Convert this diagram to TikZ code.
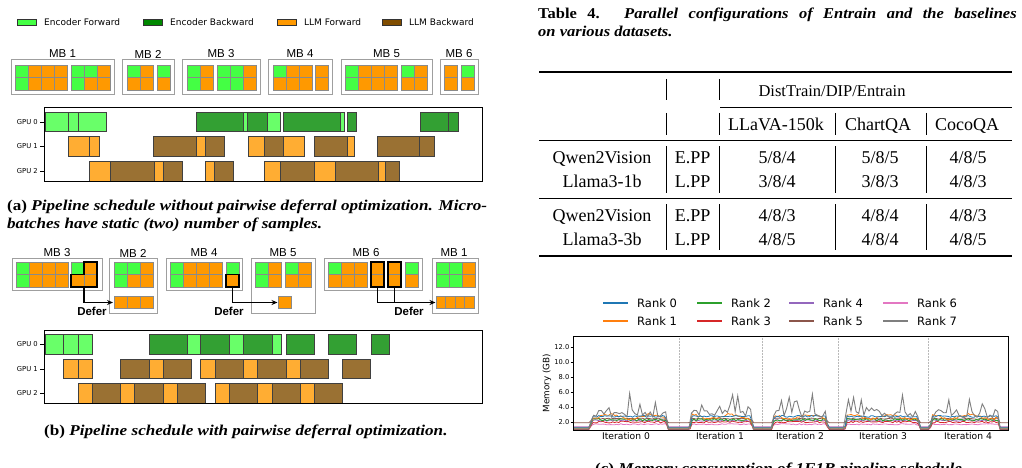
\documentclass[tikz,border=0pt]{standalone}
\usepackage{fontspec}
\setmainfont{Liberation Serif}
\newfontfamily\dv{DejaVu Sans}
\newfontfamily\hv{Liberation Sans}
\usetikzlibrary{arrows.meta}
\definecolor{gr}{HTML}{44FF44}
\definecolor{or}{HTML}{FF9900}
\definecolor{ebk}{HTML}{008800}
\definecolor{lbk}{HTML}{804D00}
\definecolor{lg}{HTML}{69FF69}
\definecolor{dg}{HTML}{33A033}
\definecolor{lo}{HTML}{FFAD33}
\definecolor{bw}{HTML}{9A7133}
\definecolor{cA}{HTML}{1F77B4}
\definecolor{cB}{HTML}{FF7F0E}
\definecolor{cC}{HTML}{2CA02C}
\definecolor{cD}{HTML}{D62728}
\definecolor{cE}{HTML}{9467BD}
\definecolor{cF}{HTML}{8C564B}
\definecolor{cG}{HTML}{E377C2}
\definecolor{cH}{HTML}{7F7F7F}
\definecolor{cellline}{HTML}{8A8A8A}
\newcommand\fsz[1]{\fontsize{#1}{#1}\selectfont}
\newcommand\wide[1]{\scalebox{1.14}[1]{#1}}
\newcommand\twide[1]{\scalebox{1.1}[1]{#1}}
\newcommand\grp[3]{\foreach \ct/\cb [count=\ci from 0] in {#3}{%
  \draw[cellbox,fill=\ct] ({#1+13*\ci},#2) rectangle ++(13,12.5);
  \draw[cellbox,fill=\cb] ({#1+13*\ci},{#2+12.5}) rectangle ++(13,12.5);}}
\newcommand\bars[3]{\foreach \xa/\xb/\cc in {#3}{\draw[barbox,fill=\cc] (\xa,#1) rectangle (\xb,#2);}}
\begin{document}
\begin{tikzpicture}[x=1pt,y=-1pt,
  cellbox/.style={draw=cellline,line width=0.7pt},
  mbbox/.style={draw=gray!75,line width=1pt},
  mblab/.style={font=\hv\fsz{11.5},inner sep=0pt},
  hlbox/.style={draw=black,line width=1.6pt},
  deferarrow/.style={line width=1.3pt,-{Stealth[length=6pt,width=5pt]}},
  defertxt/.style={font=\hv\bfseries\fsz{11.5},inner sep=0pt},
  barbox/.style={draw=black!75,line width=0.9pt},
  gpulab/.style={font=\dv\fsz{6.8},anchor=east,inner sep=0pt},
  legbox/.style={draw=black!80,line width=0.7pt},
  legtxt/.style={font=\dv\fsz{9},anchor=west,inner sep=0pt},
  captxt/.style={font=\fsz{15},anchor=base west,inner sep=0pt},
  tbtxt/.style={font=\fsz{18},anchor=base,inner sep=0pt},
  rulethin/.style={line width=0.7pt},
  ticklab/.style={font=\dv\fsz{6.7},anchor=east,inner sep=0pt},
  declare function={R(\x,\a,\b)=min(max((\x-\a)/2,0),1)*min(max((\b-\x)/2,0),1);
    M(\x)=R(\x,590,668)+R(\x,690,753)+R(\x,772,828)+R(\x,845,920)+R(\x,930,1000);
    Y(\v)=422-(\v-2)*7.5;}]
\useasboundingbox (0,0) rectangle (1022,468);

% ---------- legend (top left)
\foreach \lx/\lc/\lt [count=\li] in {17/gr/Encoder Forward,143/ebk/Encoder Backward,277/or/LLM Forward,382/lbk/LLM Backward}{
  \draw[legbox,fill=\lc] (\lx,19) rectangle ++(19,6);
  \node[legtxt] (leg\li) at ({\lx+27},22) {\lt};
}

% ---------- (a) micro-batches
\draw[mbbox] (11,60) rectangle (114,95);  \node[mblab] (a1) at (62.5,54) {MB 1};
\grp{15}{65}{gr/gr,or/or,or/or,or/or} \grp{71}{65}{gr/gr,gr/or,or/or}
\draw[mbbox] (122,60) rectangle (174,95); \node[mblab] (a2) at (148,54) {MB 2};
\grp{127}{65}{gr/or,or/or} \grp{157}{65}{gr/or}
\draw[mbbox] (182,60) rectangle (260,95); \node[mblab] (a3) at (221,54) {MB 3};
\grp{187}{65}{gr/gr,or/or} \grp{217}{65}{gr/gr,gr/gr,or/or}
\draw[mbbox] (268,60) rectangle (332,95); \node[mblab] (a4) at (300,54) {MB 4};
\grp{273}{65}{gr/or,or/or,or/or} \grp{315}{65}{or/or}
\draw[mbbox] (341,60) rectangle (432,95); \node[mblab] (a5) at (386.5,54) {MB 5};
\grp{345}{65}{gr/gr,or/or,or/or,or/or} \grp{401}{65}{gr/or,or/or}
\draw[mbbox] (440,60) rectangle (478,95); \node[mblab] (a6) at (459,54) {MB 6};
\grp{444}{65}{or/or} \grp{461}{65}{gr/or}

% ---------- (a) schedule
\bars{112}{131.5}{45/68/lg,68/78/lg,78/106/lg,196/243/dg,243/247/lg,247/267/dg,267/280/lg,283/340/dg,340/344/lg,347/356/dg,420/448/dg,448/458/dg}
\bars{136.5}{156}{68/89/lo,89/99/lo,153/196/bw,196/205/lo,205/224/bw,248/264/lo,264/283/bw,283/304/lo,314/347/bw,347/354/lo,377/419/bw,419/434/bw}
\bars{161}{181}{89/110/lo,110/154/bw,154/163/lo,163/182/bw,205/214/lo,214/233/bw,264/280/lo,280/314/bw,314/335/lo,335/378/bw,378/385/lo,385/399/bw}
\draw[line width=1pt] (44,108) rectangle (482,181);
\foreach \gy/\gn in {122/0,146.5/1,171/2}{
  \draw[line width=0.6pt] (40,\gy) -- (44,\gy);
  \node[gpulab] (ga\gn) at (38,\gy) {GPU \gn};
}
\node[captxt] (capa1) at (7,210) {\wide{\makebox[421pt][s]{\textbf{(a)} \textbf{\textit{Pipeline schedule without pairwise deferral optimization. Micro-}}}}};
\node[captxt] (capa2) at (7,228) {\wide{\textbf{\textit{batches have static (two) number of samples.}}}};

% ---------- (b) micro-batches with deferral
\draw[mbbox] (12,258) rectangle (102,290); \node[mblab] (b3) at (57,253) {MB 3};
\grp{16}{262}{gr/gr,or/or,or/or,or/or} \grp{71}{262}{gr/or,or/or}
\draw[hlbox] (84,262) -- (97,262) -- (97,287) -- (71,287) -- (71,274.5) -- (84,274.5) -- cycle;
\draw[mbbox] (109,258) rectangle (157,313); \node[mblab] (b2) at (133,253) {MB 2};
\grp{114}{262}{gr/gr,gr/or,or/or}
\foreach \k in {0,1,2} \draw[cellbox,fill=or] ({114+13*\k},296) rectangle ++(13,12.5);
\draw[mbbox] (166,258) rectangle (242,290); \node[mblab] (b4) at (204,253) {MB 4};
\grp{170}{262}{gr/gr,or/or,or/or,or/or} \grp{226}{262}{gr/or}
\draw[hlbox] (226,274.5) rectangle (239,287);
\draw[mbbox] (251,258) rectangle (315,313); \node[mblab] (b5) at (283,253) {MB 5};
\grp{255}{262}{gr/gr,or/or} \grp{285}{262}{gr/or,or/or}
\draw[cellbox,fill=or] (278,296) rectangle ++(13,12.5);
\draw[mbbox] (324,258) rectangle (422,290); \node[mblab] (b6) at (366,253) {MB 6};
\grp{328}{262}{gr/or,or/or,or/or} \grp{371}{262}{or/or} \grp{388}{262}{or/or} \grp{405}{262}{gr/or}
\draw[hlbox] (371,262) rectangle (384,287);
\draw[hlbox] (388,262) rectangle (401,287);
\draw[mbbox] (432,258) rectangle (478,313); \node[mblab] (b1) at (454,253) {MB 1};
\grp{436}{262}{gr/gr,gr/gr,or/or}
\foreach \k in {0,1,2,3} \draw[cellbox,fill=or] ({436+9.5*\k},296) rectangle ++(9.5,12.5);

\coordinate (h3) at (84,287);   \coordinate (d2) at (113,302.5);
\coordinate (h4) at (232.5,287); \coordinate (d5) at (277.5,302.5);
\coordinate (h6a) at (377.5,287); \coordinate (h6b) at (394.5,287); \coordinate (d1) at (435.5,302.5);
\draw[deferarrow] (h3) |- (d2);
\draw[deferarrow] (h4) |- (d5);
\draw[deferarrow] (h6a) |- (d1);
\draw[line width=1.3pt] (h6b) -- (h6b |- d1);
\node[defertxt] (df1) at (92,311) {Defer};
\node[defertxt] (df2) at (229,311) {Defer};
\node[defertxt] (df3) at (409,311) {Defer};

% ---------- (b) schedule
\bars{334.5}{354}{45/63/lg,63/78/lg,78/92/lg,149/187/dg,187/200/lg,200/229/dg,229/243/lg,243/272/dg,272/281/lg,286/314/dg,328/356/dg,371/389/dg}
\bars{359}{378.5}{63/78/lo,78/92/lo,120/149/bw,149/163/lo,163/191/bw,200/215/lo,215/243/bw,243/257/lo,257/286/bw,286/300/lo,300/328/bw,342/370/bw}
\bars{383.5}{403}{78/92/lo,92/120/bw,120/134/lo,134/163/bw,163/177/lo,177/205/bw,215/229/lo,229/257/bw,257/272/lo,272/300/bw,300/314/lo,314/342/bw}
\draw[line width=1pt] (44,330) rectangle (482,403);
\foreach \gy/\gn in {344/0,369/1,393.5/2}{
  \draw[line width=0.6pt] (40,\gy) -- (44,\gy);
  \node[gpulab] (gb\gn) at (38,\gy) {GPU \gn};
}
\node[captxt] (capb) at (44,435) {\wide{\textbf{(b)} \textbf{\textit{Pipeline schedule with pairwise deferral optimization.}}}};

% ---------- Table 4
\node[captxt] (tc1) at (538,19) {\twide{\makebox[435pt][s]{\textbf{Table 4.} \textbf{\textit{Parallel configurations of Entrain and the baselines}}}}};
\node[captxt] (tc2) at (538,37) {\twide{\textbf{\textit{on various datasets.}}}};
\draw[line width=1.2pt] (539,72) -- (1012,72);
\node[tbtxt,font=\fsz{16.5}] (hd) at (832,97) {DistTrain/DIP/Entrain};
\draw[rulethin] (720,107) -- (1012,107);
\node[tbtxt] (hc1) at (776,131) {LLaVA-150k};
\node[tbtxt] (hc2) at (878,131) {ChartQA};
\node[tbtxt] (hc3) at (967,131) {CocoQA};
\foreach \vx in {666,719} \draw[line width=0.8pt] (\vx,79) -- (\vx,100);
\foreach \vx in {666,719,835,926} \draw[line width=0.8pt] (\vx,113) -- (\vx,135);
\draw[rulethin] (539,140) -- (1012,140);
\foreach \vx in {666,719,835,926} {\draw[line width=0.8pt] (\vx,146) -- (\vx,193); \draw[line width=0.8pt] (\vx,204) -- (\vx,250);}
\foreach \by/\ma/\mb/\va/\vb/\vc [count=\ri] in {163/Qwen2Vision/E.PP/5\slash8\slash4/5\slash8\slash5/4\slash8\slash5,
    187.5/Llama3-1b/L.PP/3\slash8\slash4/3\slash8\slash3/4\slash8\slash3,
    221.5/Qwen2Vision/E.PP/4\slash8\slash3/4\slash8\slash4/4\slash8\slash3,
    245/Llama3-3b/L.PP/4\slash8\slash5/4\slash8\slash4/4\slash8\slash5}{
  \node[tbtxt] (r\ri a) at (602,\by) {\ma};
  \node[tbtxt] (r\ri b) at (692.5,\by) {\mb};
  \node[tbtxt] (r\ri c) at (777,\by) {\va};
  \node[tbtxt] (r\ri d) at (880,\by) {\vb};
  \node[tbtxt] (r\ri e) at (968,\by) {\vc};
}
\draw[rulethin] (539,198) -- (1012,198);
\draw[line width=1.2pt] (539,256) -- (1012,256);

% ---------- memory chart
\foreach \cx/\tx/\ca/\na/\cbb/\nb [count=\ki] in {603/637/cA/0/cB/1,697/731/cC/2/cD/3,789/823/cE/4/cF/5,883/917/cG/6/cH/7}{
  \draw[\ca,line width=1.5pt] (\cx,303) -- ++(25,0);
  \node[font=\dv\fsz{11.5},anchor=west,inner sep=0pt] (lr\na) at (\tx,303) {Rank \na};
  \draw[\cbb,line width=1.5pt] (\cx,321) -- ++(25,0);
  \node[font=\dv\fsz{11.5},anchor=west,inner sep=0pt] (lr\nb) at (\tx,321) {Rank \nb};
}
\foreach \dx in {679,762,838,928} \draw[densely dotted,gray!55,line width=0.5pt] (\dx,336) -- (\dx,430);
\begin{scope}
\clip (573,336) rectangle (1008,430);
\pgfmathsetseed{11}
\draw[cF,line width=0.8pt] plot[domain=573:1008,samples=220] (\x,{Y(1.9+0.55*M(\x)+0.08*rand*M(\x))});
\draw[cG,line width=0.8pt] plot[domain=573:1008,samples=220] (\x,{Y(1.35+0.35*M(\x)+0.08*rand*M(\x))});
\draw[cD,line width=0.8pt] plot[domain=573:1008,samples=220] (\x,{Y(1.0+1.0*M(\x)+0.12*rand*M(\x))});
\draw[cE,line width=0.8pt] plot[domain=573:1008,samples=220] (\x,{Y(1.1+1.1*M(\x)+0.1*rand*M(\x))});
\draw[cC,line width=0.8pt] plot[domain=573:1008,samples=220] (\x,{Y(1.2+1.1*M(\x)+0.15*rand*M(\x))});
\draw[cB,line width=0.8pt] plot[domain=573:1008,samples=220] (\x,{Y(1.2+(1.5+0.3*sin(\x*9))*M(\x)+0.15*rand*M(\x))});
\draw[cA,line width=0.8pt] plot[domain=573:1008,samples=220] (\x,{Y(1.3+1.45*M(\x)+0.12*rand*M(\x))});
\draw[cH,line width=0.9pt] plot[domain=573:1008,samples=170] (\x,{Y(1.05+(2.0+0.5*rand+3.2*max(rand,0)^3)*M(\x))});
\end{scope}
\draw[line width=0.9pt] (573,336) rectangle (1008,430);
\foreach \tv in {2,4,6,8,10,12}{
  \draw[line width=0.5pt] (570.5,{Y(\tv)}) -- (573,{Y(\tv)});
  \node[ticklab] (yt\tv) at (569.5,{Y(\tv)}) {\tv.0};
}
\node[font=\dv\fsz{8.8},rotate=90,inner sep=0pt] (ylab) at (547,383) {Memory (GB)};
\foreach \ix/\itn in {626/0,720/1,800/2,883/3,968/4}
  \node[font=\dv\fsz{9.2},inner sep=0pt] (it\itn) at (\ix,436) {Iteration \itn};
\node[captxt] (capc) at (595,473) {\wide{\textbf{(c)} \textbf{\textit{Memory consumption of 1F1B pipeline schedule.}}}};
\end{tikzpicture}
\end{document}
